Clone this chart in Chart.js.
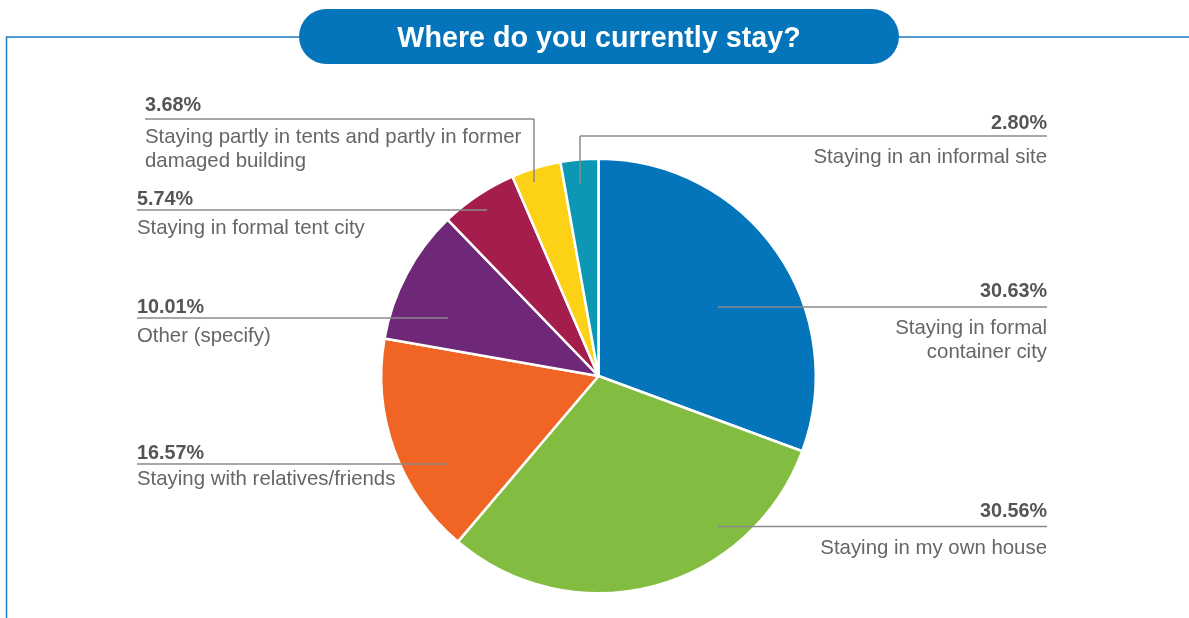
<!DOCTYPE html>
<html>
<head>
<meta charset="utf-8">
<title>Where do you currently stay?</title>
<script src="https://cdn.jsdelivr.net/npm/chart.js@4/dist/chart.umd.min.js"></script>
<style>
  html, body { margin: 0; padding: 0; background: #ffffff; }
  #wrap { position: relative; width: 1189px; height: 618px; overflow: hidden; }
  canvas { display: block; }
</style>
</head>
<body>
<div id="wrap"><canvas id="chart" width="1189" height="618"></canvas></div>
<script>
// Survey answers, clockwise from 12 o'clock
const categories = [
  ['Staying in formal', 'container city'],
  ['Staying in my own house'],
  ['Staying with relatives/friends'],
  ['Other (specify)'],
  ['Staying in formal tent city'],
  ['Staying partly in tents and partly in former', 'damaged building'],
  ['Staying in an informal site']
];
const shares = [30.63, 30.56, 16.57, 10.01, 5.74, 3.68, 2.80];
const sliceColors = ['#0474BB', '#82BD41', '#F06424', '#6F2777', '#A51D4C', '#FCD116', '#0C97B4'];
const chartTitle = 'Where do you currently stay?';

// Callout placement: side, text anchor x, leader y, leader start/end x,
// optional elbow drop, offsets of the value and label baselines.
const callouts = [
  { side: 'right', tx: 1047, ly: 307, x1: 718, x2: 1047, vOff: -10, lOff: 27 },
  { side: 'right', tx: 1047, ly: 526.5, x1: 718, x2: 1047, vOff: -10, lOff: 27 },
  { side: 'left', tx: 137, ly: 464, x1: 137, x2: 448, vOff: -5, lOff: 21 },
  { side: 'left', tx: 137, ly: 318, x1: 137, x2: 448, vOff: -5.5, lOff: 23.5 },
  { side: 'left', tx: 137, ly: 210, x1: 137, x2: 487, vOff: -5, lOff: 24 },
  { side: 'left', tx: 145, ly: 119, x1: 145, x2: 534, drop: 182, vOff: -8, lOff: 24 },
  { side: 'right', tx: 1047, ly: 136, x1: 580, x2: 1047, drop: 184, vOff: -7, lOff: 26.5 }
];

const BLUE = '#0474BB';

const decorations = {
  id: 'decorations',
  afterDraw(chart) {
    const ctx = chart.ctx;
    ctx.save();

    // frame lines
    ctx.strokeStyle = '#1A7CC2';
    ctx.lineWidth = 1.5;
    ctx.beginPath();
    ctx.moveTo(6.5, 620);
    ctx.lineTo(6.5, 37);
    ctx.lineTo(310, 37);
    ctx.moveTo(890, 37);
    ctx.lineTo(1189, 37);
    ctx.stroke();

    // title pill
    const px = 299, py = 9, pw = 600, ph = 55, r = ph / 2;
    ctx.fillStyle = BLUE;
    ctx.beginPath();
    ctx.moveTo(px + r, py);
    ctx.lineTo(px + pw - r, py);
    ctx.arc(px + pw - r, py + r, r, -Math.PI / 2, Math.PI / 2);
    ctx.lineTo(px + r, py + ph);
    ctx.arc(px + r, py + r, r, Math.PI / 2, Math.PI * 1.5);
    ctx.closePath();
    ctx.fill();
    ctx.fillStyle = '#ffffff';
    ctx.font = 'bold 28.7px "Liberation Sans", Arial, sans-serif';
    ctx.textAlign = 'center';
    ctx.textBaseline = 'alphabetic';
    ctx.fillText(chartTitle, px + pw / 2, 47);

    // callouts
    callouts.forEach((c, i) => {
      ctx.strokeStyle = '#8A8A8A';
      ctx.lineWidth = 1.5;
      ctx.beginPath();
      ctx.moveTo(c.x1, c.ly);
      ctx.lineTo(c.x2, c.ly);
      if (c.drop) {
        const ex = c.side === 'left' ? c.x2 : c.x1;
        ctx.moveTo(ex, c.ly);
        ctx.lineTo(ex, c.drop);
      }
      ctx.stroke();

      ctx.textAlign = c.side === 'left' ? 'left' : 'right';
      ctx.fillStyle = '#555555';
      ctx.font = 'bold 19.8px "Liberation Sans", Arial, sans-serif';
      ctx.fillText(shares[i].toFixed(2) + '%', c.tx, c.ly + c.vOff);

      ctx.fillStyle = '#666666';
      ctx.font = '20.4px "Liberation Sans", Arial, sans-serif';
      categories[i].forEach((line, k) => {
        ctx.fillText(line, c.tx, c.ly + c.lOff + k * 23.5);
      });
    });
    ctx.restore();
  }
};

new Chart(document.getElementById('chart'), {
  type: 'pie',
  data: {
    labels: categories.map(c => c.join(' ')),
    datasets: [{
      data: shares,
      backgroundColor: sliceColors,
      borderColor: '#ffffff',
      borderWidth: 2.5
    }]
  },
  options: {
    responsive: false,
    animation: false,
    events: [],
    layout: { padding: { left: 380, right: 372, top: 157, bottom: 23 } },
    plugins: {
      legend: { display: false },
      tooltip: { enabled: false },
      title: { display: false }
    }
  },
  plugins: [decorations]
});
</script>
</body>
</html>
